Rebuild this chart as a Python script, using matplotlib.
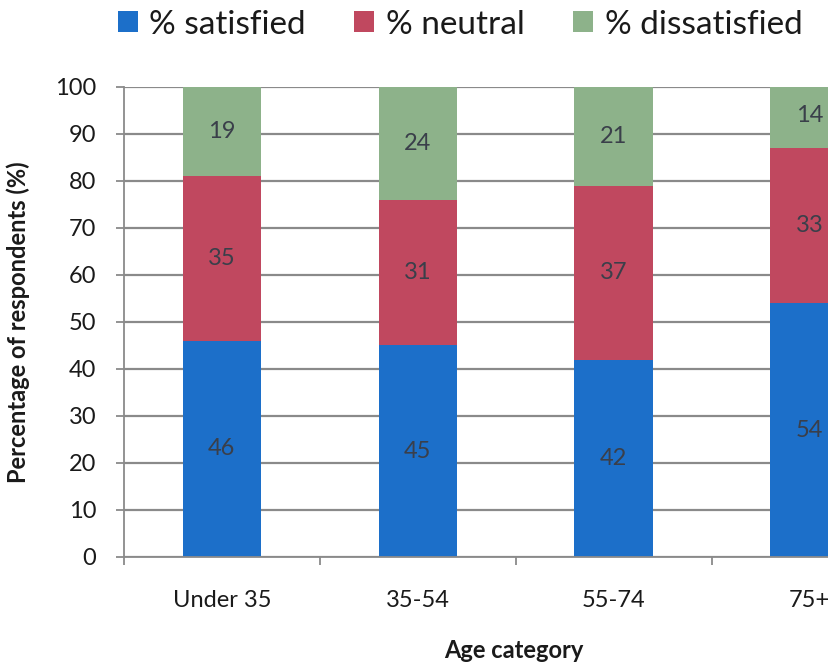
import matplotlib.pyplot as plt
import numpy as np

plt.rcParams['font.family'] = ['Lato', 'DejaVu Sans']

categories = ['Under 35', '35-54', '55-74', '75+']
satisfied = [46, 45, 42, 54]
neutral = [35, 31, 37, 33]
dissatisfied = [19, 24, 21, 14]

series = [
    ('% satisfied', satisfied, '#1c6fc9'),
    ('% neutral', neutral, '#c0485f'),
    ('% dissatisfied', dissatisfied, '#8db28a'),
]

fig = plt.figure(figsize=(8.29, 6.66), dpi=100)
ax = fig.add_axes([0.1496, 0.1637, 0.8504, 0.7057])

x = np.arange(len(categories))
bottom = np.zeros(len(categories))
for name, vals, color in series:
    vals = np.array(vals, dtype=float)
    ax.bar(x, vals, width=0.4, bottom=bottom, color=color, label=name, zorder=2)
    for xi, b, v in zip(x, bottom, vals):
        ax.text(xi, b + v / 2, f'{int(v)}', ha='center', va='center',
                fontsize=17, color='#3a3f4a', zorder=3)
    bottom += vals

ax.set_xlim(-0.5, 3.1)
ax.set_ylim(0, 100)
ax.set_yticks(range(0, 101, 10))
ax.yaxis.grid(True, color='#8a8a8a', linewidth=1.6, zorder=0)
ax.set_axisbelow(True)

# category labels in the middle, tick marks on the boundaries
ax.set_xticks(np.arange(-0.5, 3.0, 1.0))
ax.set_xticklabels([])
ax.set_xticks(x, minor=True)
ax.set_xticklabels(categories, minor=True, fontsize=17, color='#1a1a1a')
ax.tick_params(axis='x', which='minor', length=0, pad=24)
ax.tick_params(axis='x', which='major', length=6, color='#8a8a8a', width=1.3)
ax.tick_params(axis='y', length=6, color='#8a8a8a', width=1.3,
               labelsize=17, labelcolor='#1a1a1a', pad=14)

for side in ['top', 'right']:
    ax.spines[side].set_visible(False)
for side in ['left', 'bottom']:
    ax.spines[side].set_color('#8a8a8a')
    ax.spines[side].set_linewidth(1.3)

ax.set_ylabel('Percentage of respondents (%)', fontsize=17, fontweight='bold',
              color='#1a1a1a')
ax.yaxis.set_label_coords(-0.133, 0.5)
ax.set_xlabel('Age category', fontsize=17, fontweight='bold', color='#1a1a1a')
ax.xaxis.set_label_coords(0.553, -0.175)

fig.legend(loc='center', bbox_to_anchor=(0.555, 0.963), ncol=3, frameon=False,
           fontsize=24, handlelength=0.6, handleheight=0.6, handletextpad=0.35,
           columnspacing=1.45, labelcolor='#1a1a1a')

fig.savefig('out.png', dpi=100)
